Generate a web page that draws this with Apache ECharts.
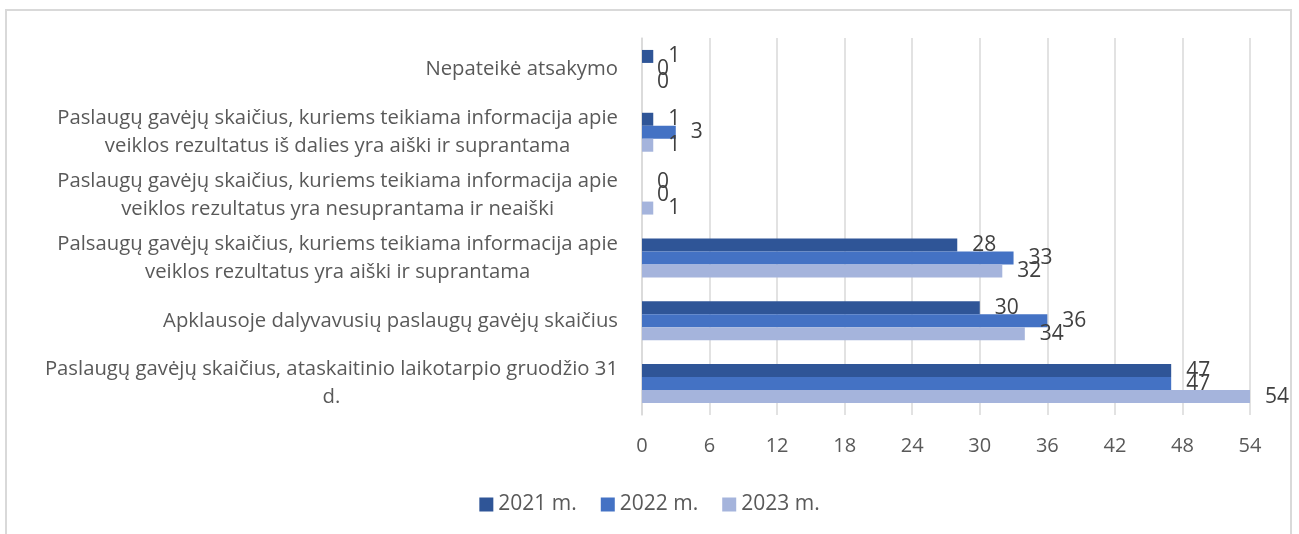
<!DOCTYPE html>
<html>
<head>
<meta charset="utf-8">
<script src="https://cdn.jsdelivr.net/npm/echarts@6/dist/echarts.min.js"></script>
<style>
  html, body { margin: 0; padding: 0; background: #ffffff; }
  #wrap { position: relative; width: 1299px; height: 534px; overflow: hidden; }
  #frame { position: absolute; left: 5px; top: 9px; width: 1287px; height: 540px;
           border: 2px solid #d9d9d9; border-bottom: none; box-sizing: border-box; }
  #chart { position: absolute; left: 0; top: 0; width: 1299px; height: 534px; }
</style>
</head>
<body>
<div id="wrap">
  <div id="frame"></div>
  <div id="chart"></div>
</div>
<script>
// Categories, top to bottom (line breaks as in the reference)
const categories = [
  "Nepateikė atsakymo",
  "Paslaugų gavėjų skaičius, kuriems teikiama informacija apie\nveiklos rezultatus iš dalies yra aiški ir suprantama",
  "Paslaugų gavėjų skaičius, kuriems teikiama informacija apie\nveiklos rezultatus yra nesuprantama ir neaiški",
  "Palsaugų gavėjų skaičius, kuriems teikiama informacija apie\nveiklos rezultatus yra aiški ir suprantama",
  "Apklausoje dalyvavusių paslaugų gavėjų skaičius",
  "Paslaugų gavėjų skaičius, ataskaitinio laikotarpio gruodžio 31\nd."
];
const seriesNames = ["2021 m.", "2022 m.", "2023 m."];
const values2021 = [1, 1, 0, 28, 30, 47];
const values2022 = [0, 3, 0, 33, 36, 47];
const values2023 = [0, 1, 1, 32, 34, 54];
const xTicks = { min: 0, max: 54, interval: 6 };

const colors = ["#2F5597", "#4472C4", "#A5B4DC"];
const FONT = "Open Sans";

const chart = echarts.init(document.getElementById('chart'), null, { renderer: 'canvas' });

function makeSeries(name, data, color) {
  return {
    name: name,
    type: 'bar',
    data: data,
    barGap: '0%',
    barCategoryGap: '38%',
    itemStyle: { color: color },
    label: {
      show: true,
      position: 'right',
      distance: 15,
      color: '#404040',
      fontSize: 21,
      fontFamily: FONT
    },
    emphasis: { disabled: true }
  };
}

chart.setOption({
  animation: false,
  color: colors,
  grid: { left: 642, right: 49, top: 38, bottom: 119, containLabel: false },
  legend: {
    data: seriesNames,
    top: 489,
    left: 'center',
    icon: 'rect',
    itemWidth: 14,
    itemHeight: 14,
    itemGap: 24,
    textStyle: { color: '#595959', fontSize: 21, fontFamily: FONT }
  },
  xAxis: {
    type: 'value',
    min: xTicks.min,
    max: xTicks.max,
    interval: xTicks.interval,
    axisLine: { show: false },
    axisTick: { show: false },
    splitLine: { show: true, lineStyle: { color: '#d9d9d9', width: 1.5 } },
    axisLabel: { color: '#595959', fontSize: 20, fontFamily: FONT, margin: 21 }
  },
  yAxis: {
    type: 'category',
    inverse: true,
    data: categories,
    axisLine: { show: true, lineStyle: { color: '#d9d9d9', width: 1.5 } },
    axisTick: { show: false },
    axisLabel: {
      margin: 24,
      align: 'right',
      formatter: function (v) {
        return v.split('\n').map(function (l) { return '{c|' + l + '}'; }).join('\n');
      },
      rich: {
        c: { align: 'center', color: '#595959', fontSize: 20.3, fontFamily: FONT, lineHeight: 28 }
      }
    }
  },
  series: [
    makeSeries(seriesNames[0], values2021, colors[0]),
    makeSeries(seriesNames[1], values2022, colors[1]),
    makeSeries(seriesNames[2], values2023, colors[2])
  ]
});
</script>
</body>
</html>
